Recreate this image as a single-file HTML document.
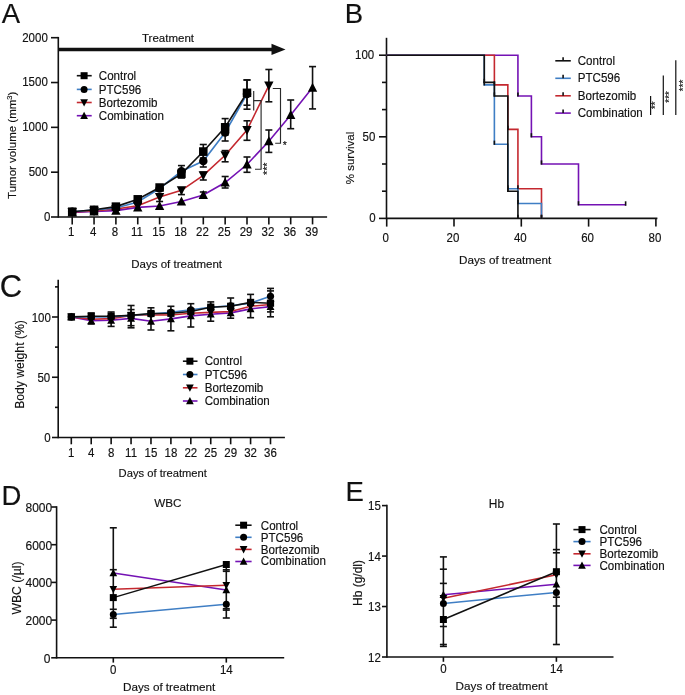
<!DOCTYPE html>
<html><head><meta charset="utf-8"><style>
html,body{margin:0;padding:0;background:#fff;}
svg{display:block;will-change:transform;}
text{font-family:"Liberation Sans", sans-serif;fill:#111;stroke:#111;stroke-width:0.15px;}
</style></head><body>
<svg width="685" height="695" viewBox="0 0 685 695">
<rect width="685" height="695" fill="#fff"/>
<text x="1.80" y="22.80" font-size="27.5" text-anchor="start" >A</text>
<line x1="58.30" y1="36.90" x2="58.30" y2="217.80" stroke="#111" stroke-width="1.6"/>
<line x1="58.30" y1="217.00" x2="327.10" y2="217.00" stroke="#111" stroke-width="1.6"/>
<line x1="51.00" y1="217.00" x2="58.30" y2="217.00" stroke="#111" stroke-width="1.6"/>
<text x="0" y="0" font-size="11.5" text-anchor="end" transform="translate(50.40,220.90) scale(1,1.1)" >0</text>
<line x1="51.00" y1="172.18" x2="58.30" y2="172.18" stroke="#111" stroke-width="1.6"/>
<text x="0" y="0" font-size="11.5" text-anchor="end" transform="translate(47.80,176.08) scale(1,1.1)" >500</text>
<line x1="51.00" y1="127.35" x2="58.30" y2="127.35" stroke="#111" stroke-width="1.6"/>
<text x="0" y="0" font-size="11.5" text-anchor="end" transform="translate(47.80,131.25) scale(1,1.1)" >1000</text>
<line x1="51.00" y1="82.53" x2="58.30" y2="82.53" stroke="#111" stroke-width="1.6"/>
<text x="0" y="0" font-size="11.5" text-anchor="end" transform="translate(47.80,86.43) scale(1,1.1)" >1500</text>
<line x1="51.00" y1="37.70" x2="58.30" y2="37.70" stroke="#111" stroke-width="1.6"/>
<text x="0" y="0" font-size="11.5" text-anchor="end" transform="translate(47.80,41.60) scale(1,1.1)" >2000</text>
<line x1="72.20" y1="217.00" x2="72.20" y2="224.40" stroke="#111" stroke-width="1.6"/>
<text x="0" y="0" font-size="11.5" text-anchor="middle" transform="translate(71.30,236.20) scale(1,1.1)" >1</text>
<line x1="94.05" y1="217.00" x2="94.05" y2="224.40" stroke="#111" stroke-width="1.6"/>
<text x="0" y="0" font-size="11.5" text-anchor="middle" transform="translate(93.15,236.20) scale(1,1.1)" >4</text>
<line x1="115.90" y1="217.00" x2="115.90" y2="224.40" stroke="#111" stroke-width="1.6"/>
<text x="0" y="0" font-size="11.5" text-anchor="middle" transform="translate(115.00,236.20) scale(1,1.1)" >8</text>
<line x1="137.75" y1="217.00" x2="137.75" y2="224.40" stroke="#111" stroke-width="1.6"/>
<text x="0" y="0" font-size="11.5" text-anchor="middle" transform="translate(136.85,236.20) scale(1,1.1)" >11</text>
<line x1="159.60" y1="217.00" x2="159.60" y2="224.40" stroke="#111" stroke-width="1.6"/>
<text x="0" y="0" font-size="11.5" text-anchor="middle" transform="translate(158.70,236.20) scale(1,1.1)" >15</text>
<line x1="181.45" y1="217.00" x2="181.45" y2="224.40" stroke="#111" stroke-width="1.6"/>
<text x="0" y="0" font-size="11.5" text-anchor="middle" transform="translate(180.55,236.20) scale(1,1.1)" >18</text>
<line x1="203.30" y1="217.00" x2="203.30" y2="224.40" stroke="#111" stroke-width="1.6"/>
<text x="0" y="0" font-size="11.5" text-anchor="middle" transform="translate(202.40,236.20) scale(1,1.1)" >22</text>
<line x1="225.15" y1="217.00" x2="225.15" y2="224.40" stroke="#111" stroke-width="1.6"/>
<text x="0" y="0" font-size="11.5" text-anchor="middle" transform="translate(224.25,236.20) scale(1,1.1)" >25</text>
<line x1="247.00" y1="217.00" x2="247.00" y2="224.40" stroke="#111" stroke-width="1.6"/>
<text x="0" y="0" font-size="11.5" text-anchor="middle" transform="translate(246.10,236.20) scale(1,1.1)" >29</text>
<line x1="268.85" y1="217.00" x2="268.85" y2="224.40" stroke="#111" stroke-width="1.6"/>
<text x="0" y="0" font-size="11.5" text-anchor="middle" transform="translate(267.95,236.20) scale(1,1.1)" >32</text>
<line x1="290.70" y1="217.00" x2="290.70" y2="224.40" stroke="#111" stroke-width="1.6"/>
<text x="0" y="0" font-size="11.5" text-anchor="middle" transform="translate(289.80,236.20) scale(1,1.1)" >36</text>
<line x1="312.55" y1="217.00" x2="312.55" y2="224.40" stroke="#111" stroke-width="1.6"/>
<text x="0" y="0" font-size="11.5" text-anchor="middle" transform="translate(311.65,236.20) scale(1,1.1)" >39</text>
<text x="131.30" y="268.20" font-size="11.5" text-anchor="start" >Days of treatment</text>
<text x="0" y="0" font-size="11.5" text-anchor="middle" dominant-baseline="central" transform="translate(11.80,145.30) rotate(-90)" >Tumor volume (mm<tspan font-size="7.5" dy="-3.3">3</tspan><tspan dy="3.3">)</tspan></text>
<line x1="58.30" y1="49.40" x2="273.00" y2="49.40" stroke="#111" stroke-width="3.5"/>
<polygon points="271.5,43.7 285.5,49.4 271.5,55.1" fill="#111"/>
<text x="142.00" y="42.40" font-size="11.5" text-anchor="start" >Treatment</text>
<polyline points="72.20,212.50 94.05,211.50 115.90,210.60 137.75,207.40 159.60,206.00 181.45,201.50 203.30,195.00 225.15,182.50 247.00,164.50 268.85,141.20 290.70,114.90 312.55,87.60" fill="none" stroke="#7412b4" stroke-width="1.6" stroke-linejoin="miter"/>
<polyline points="72.20,212.00 94.05,211.00 115.90,209.00 137.75,205.80 159.60,197.00 181.45,190.30 203.30,175.30 225.15,155.30 247.00,130.00 268.85,85.60" fill="none" stroke="#c4282f" stroke-width="1.6" stroke-linejoin="miter"/>
<polyline points="72.20,211.70 94.05,210.00 115.90,208.00 137.75,202.00 159.60,188.50 181.45,171.30 203.30,161.00 225.15,132.50 247.00,94.00" fill="none" stroke="#3f7ec4" stroke-width="1.6" stroke-linejoin="miter"/>
<polyline points="72.20,211.70 94.05,209.80 115.90,206.60 137.75,199.30 159.60,187.50 181.45,173.90 203.30,151.50 225.15,127.30 247.00,92.80" fill="none" stroke="#111" stroke-width="1.6" stroke-linejoin="miter"/>
<line x1="203.30" y1="192.00" x2="203.30" y2="198.00" stroke="#111" stroke-width="1.6"/>
<line x1="199.80" y1="192.00" x2="206.80" y2="192.00" stroke="#111" stroke-width="1.6"/>
<line x1="199.80" y1="198.00" x2="206.80" y2="198.00" stroke="#111" stroke-width="1.6"/>
<line x1="225.15" y1="176.50" x2="225.15" y2="188.00" stroke="#111" stroke-width="1.6"/>
<line x1="221.65" y1="176.50" x2="228.65" y2="176.50" stroke="#111" stroke-width="1.6"/>
<line x1="221.65" y1="188.00" x2="228.65" y2="188.00" stroke="#111" stroke-width="1.6"/>
<line x1="247.00" y1="157.00" x2="247.00" y2="172.30" stroke="#111" stroke-width="1.6"/>
<line x1="243.50" y1="157.00" x2="250.50" y2="157.00" stroke="#111" stroke-width="1.6"/>
<line x1="243.50" y1="172.30" x2="250.50" y2="172.30" stroke="#111" stroke-width="1.6"/>
<line x1="268.85" y1="130.00" x2="268.85" y2="152.40" stroke="#111" stroke-width="1.6"/>
<line x1="265.35" y1="130.00" x2="272.35" y2="130.00" stroke="#111" stroke-width="1.6"/>
<line x1="265.35" y1="152.40" x2="272.35" y2="152.40" stroke="#111" stroke-width="1.6"/>
<line x1="290.70" y1="100.00" x2="290.70" y2="128.70" stroke="#111" stroke-width="1.6"/>
<line x1="287.20" y1="100.00" x2="294.20" y2="100.00" stroke="#111" stroke-width="1.6"/>
<line x1="287.20" y1="128.70" x2="294.20" y2="128.70" stroke="#111" stroke-width="1.6"/>
<line x1="312.55" y1="66.60" x2="312.55" y2="108.90" stroke="#111" stroke-width="1.6"/>
<line x1="309.05" y1="66.60" x2="316.05" y2="66.60" stroke="#111" stroke-width="1.6"/>
<line x1="309.05" y1="108.90" x2="316.05" y2="108.90" stroke="#111" stroke-width="1.6"/>
<line x1="159.60" y1="194.60" x2="159.60" y2="201.50" stroke="#111" stroke-width="1.6"/>
<line x1="156.10" y1="194.60" x2="163.10" y2="194.60" stroke="#111" stroke-width="1.6"/>
<line x1="156.10" y1="201.50" x2="163.10" y2="201.50" stroke="#111" stroke-width="1.6"/>
<line x1="181.45" y1="187.70" x2="181.45" y2="194.60" stroke="#111" stroke-width="1.6"/>
<line x1="177.95" y1="187.70" x2="184.95" y2="187.70" stroke="#111" stroke-width="1.6"/>
<line x1="177.95" y1="194.60" x2="184.95" y2="194.60" stroke="#111" stroke-width="1.6"/>
<line x1="203.30" y1="172.20" x2="203.30" y2="180.00" stroke="#111" stroke-width="1.6"/>
<line x1="199.80" y1="172.20" x2="206.80" y2="172.20" stroke="#111" stroke-width="1.6"/>
<line x1="199.80" y1="180.00" x2="206.80" y2="180.00" stroke="#111" stroke-width="1.6"/>
<line x1="225.15" y1="150.60" x2="225.15" y2="161.80" stroke="#111" stroke-width="1.6"/>
<line x1="221.65" y1="150.60" x2="228.65" y2="150.60" stroke="#111" stroke-width="1.6"/>
<line x1="221.65" y1="161.80" x2="228.65" y2="161.80" stroke="#111" stroke-width="1.6"/>
<line x1="247.00" y1="120.80" x2="247.00" y2="140.30" stroke="#111" stroke-width="1.6"/>
<line x1="243.50" y1="120.80" x2="250.50" y2="120.80" stroke="#111" stroke-width="1.6"/>
<line x1="243.50" y1="140.30" x2="250.50" y2="140.30" stroke="#111" stroke-width="1.6"/>
<line x1="268.85" y1="69.50" x2="268.85" y2="101.80" stroke="#111" stroke-width="1.6"/>
<line x1="265.35" y1="69.50" x2="272.35" y2="69.50" stroke="#111" stroke-width="1.6"/>
<line x1="265.35" y1="101.80" x2="272.35" y2="101.80" stroke="#111" stroke-width="1.6"/>
<line x1="203.30" y1="155.00" x2="203.30" y2="167.00" stroke="#111" stroke-width="1.6"/>
<line x1="199.80" y1="155.00" x2="206.80" y2="155.00" stroke="#111" stroke-width="1.6"/>
<line x1="199.80" y1="167.00" x2="206.80" y2="167.00" stroke="#111" stroke-width="1.6"/>
<line x1="225.15" y1="124.00" x2="225.15" y2="141.00" stroke="#111" stroke-width="1.6"/>
<line x1="221.65" y1="124.00" x2="228.65" y2="124.00" stroke="#111" stroke-width="1.6"/>
<line x1="221.65" y1="141.00" x2="228.65" y2="141.00" stroke="#111" stroke-width="1.6"/>
<line x1="247.00" y1="80.00" x2="247.00" y2="109.20" stroke="#111" stroke-width="1.6"/>
<line x1="243.50" y1="80.00" x2="250.50" y2="80.00" stroke="#111" stroke-width="1.6"/>
<line x1="243.50" y1="109.20" x2="250.50" y2="109.20" stroke="#111" stroke-width="1.6"/>
<line x1="181.45" y1="165.60" x2="181.45" y2="178.00" stroke="#111" stroke-width="1.6"/>
<line x1="177.95" y1="165.60" x2="184.95" y2="165.60" stroke="#111" stroke-width="1.6"/>
<line x1="177.95" y1="178.00" x2="184.95" y2="178.00" stroke="#111" stroke-width="1.6"/>
<line x1="203.30" y1="144.50" x2="203.30" y2="158.00" stroke="#111" stroke-width="1.6"/>
<line x1="199.80" y1="144.50" x2="206.80" y2="144.50" stroke="#111" stroke-width="1.6"/>
<line x1="199.80" y1="158.00" x2="206.80" y2="158.00" stroke="#111" stroke-width="1.6"/>
<line x1="225.15" y1="118.60" x2="225.15" y2="135.00" stroke="#111" stroke-width="1.6"/>
<line x1="221.65" y1="118.60" x2="228.65" y2="118.60" stroke="#111" stroke-width="1.6"/>
<line x1="221.65" y1="135.00" x2="228.65" y2="135.00" stroke="#111" stroke-width="1.6"/>
<line x1="247.00" y1="79.90" x2="247.00" y2="105.20" stroke="#111" stroke-width="1.6"/>
<line x1="243.50" y1="79.90" x2="250.50" y2="79.90" stroke="#111" stroke-width="1.6"/>
<line x1="243.50" y1="105.20" x2="250.50" y2="105.20" stroke="#111" stroke-width="1.6"/>
<polygon points="67.53,216.54 76.88,216.54 72.20,207.61" fill="#000"/>
<polygon points="89.38,215.54 98.73,215.54 94.05,206.61" fill="#000"/>
<polygon points="111.23,214.64 120.58,214.64 115.90,205.71" fill="#000"/>
<polygon points="133.07,211.44 142.43,211.44 137.75,202.51" fill="#000"/>
<polygon points="154.93,210.04 164.28,210.04 159.60,201.11" fill="#000"/>
<polygon points="176.77,205.54 186.12,205.54 181.45,196.61" fill="#000"/>
<polygon points="198.62,199.04 207.98,199.04 203.30,190.11" fill="#000"/>
<polygon points="220.48,186.54 229.83,186.54 225.15,177.61" fill="#000"/>
<polygon points="242.32,168.54 251.68,168.54 247.00,159.61" fill="#000"/>
<polygon points="264.18,145.24 273.53,145.24 268.85,136.31" fill="#000"/>
<polygon points="286.02,118.94 295.38,118.94 290.70,110.01" fill="#000"/>
<polygon points="307.88,91.64 317.23,91.64 312.55,82.71" fill="#000"/>
<polygon points="67.53,207.96 76.88,207.96 72.20,216.89" fill="#000"/>
<polygon points="89.38,206.96 98.73,206.96 94.05,215.89" fill="#000"/>
<polygon points="111.23,204.96 120.58,204.96 115.90,213.89" fill="#000"/>
<polygon points="133.07,201.76 142.43,201.76 137.75,210.69" fill="#000"/>
<polygon points="154.93,192.96 164.28,192.96 159.60,201.89" fill="#000"/>
<polygon points="176.77,186.26 186.12,186.26 181.45,195.19" fill="#000"/>
<polygon points="198.62,171.26 207.98,171.26 203.30,180.19" fill="#000"/>
<polygon points="220.48,151.26 229.83,151.26 225.15,160.19" fill="#000"/>
<polygon points="242.32,125.96 251.68,125.96 247.00,134.89" fill="#000"/>
<polygon points="264.18,81.56 273.53,81.56 268.85,90.49" fill="#000"/>
<circle cx="72.20" cy="211.70" r="4.25" fill="#000"/>
<circle cx="94.05" cy="210.00" r="4.25" fill="#000"/>
<circle cx="115.90" cy="208.00" r="4.25" fill="#000"/>
<circle cx="137.75" cy="202.00" r="4.25" fill="#000"/>
<circle cx="159.60" cy="188.50" r="4.25" fill="#000"/>
<circle cx="181.45" cy="171.30" r="4.25" fill="#000"/>
<circle cx="203.30" cy="161.00" r="4.25" fill="#000"/>
<circle cx="225.15" cy="132.50" r="4.25" fill="#000"/>
<circle cx="247.00" cy="94.00" r="4.25" fill="#000"/>
<rect x="67.95" y="207.45" width="8.50" height="8.50" fill="#000"/>
<rect x="89.80" y="205.55" width="8.50" height="8.50" fill="#000"/>
<rect x="111.65" y="202.35" width="8.50" height="8.50" fill="#000"/>
<rect x="133.50" y="195.05" width="8.50" height="8.50" fill="#000"/>
<rect x="155.35" y="183.25" width="8.50" height="8.50" fill="#000"/>
<rect x="177.20" y="169.65" width="8.50" height="8.50" fill="#000"/>
<rect x="199.05" y="147.25" width="8.50" height="8.50" fill="#000"/>
<rect x="220.90" y="123.05" width="8.50" height="8.50" fill="#000"/>
<rect x="242.75" y="88.55" width="8.50" height="8.50" fill="#000"/>
<polyline points="253.70,91.10 253.70,110.40" fill="none" stroke="#2a2a2a" stroke-width="1.15" stroke-linejoin="miter"/>
<polyline points="253.70,100.60 261.10,100.60 261.10,169.20 255.00,169.20" fill="none" stroke="#2a2a2a" stroke-width="1.15" stroke-linejoin="miter"/>
<polyline points="272.80,88.50 280.50,88.50 280.50,143.20 275.20,143.20" fill="none" stroke="#2a2a2a" stroke-width="1.15" stroke-linejoin="miter"/>
<text x="0" y="0" font-size="10.5" text-anchor="middle" dominant-baseline="central" transform="translate(267.30,168.80) rotate(-90)" >***</text>
<text x="284.90" y="148.60" font-size="10.5" text-anchor="middle" >*</text>
<line x1="76.80" y1="75.70" x2="91.70" y2="75.70" stroke="#111" stroke-width="1.6"/>
<rect x="80.60" y="72.20" width="7.00" height="7.00" fill="#000"/>
<text x="0" y="0" font-size="11.6" text-anchor="start" transform="translate(98.80,79.90) scale(1,1.03)" >Control</text>
<line x1="76.80" y1="89.40" x2="91.70" y2="89.40" stroke="#3f7ec4" stroke-width="1.6"/>
<circle cx="84.10" cy="89.40" r="3.50" fill="#000"/>
<text x="0" y="0" font-size="11.6" text-anchor="start" transform="translate(98.80,93.60) scale(1,1.03)" >PTC596</text>
<line x1="76.80" y1="102.50" x2="91.70" y2="102.50" stroke="#c4282f" stroke-width="1.6"/>
<polygon points="80.25,99.17 87.95,99.17 84.10,106.53" fill="#000"/>
<text x="0" y="0" font-size="11.6" text-anchor="start" transform="translate(98.80,106.70) scale(1,1.03)" >Bortezomib</text>
<line x1="76.80" y1="115.70" x2="91.70" y2="115.70" stroke="#7412b4" stroke-width="1.6"/>
<polygon points="80.25,119.03 87.95,119.03 84.10,111.67" fill="#000"/>
<text x="0" y="0" font-size="11.6" text-anchor="start" transform="translate(98.80,119.90) scale(1,1.03)" >Combination</text>
<text x="344.80" y="23.10" font-size="27.5" text-anchor="start" >B</text>
<line x1="386.50" y1="37.80" x2="386.50" y2="219.20" stroke="#111" stroke-width="1.6"/>
<line x1="386.50" y1="218.40" x2="657.40" y2="218.40" stroke="#111" stroke-width="1.6"/>
<line x1="379.00" y1="218.40" x2="386.50" y2="218.40" stroke="#111" stroke-width="1.6"/>
<text x="0" y="0" font-size="11.5" text-anchor="end" transform="translate(375.70,222.30) scale(1,1.1)" >0</text>
<line x1="379.00" y1="136.80" x2="386.50" y2="136.80" stroke="#111" stroke-width="1.6"/>
<text x="0" y="0" font-size="11.5" text-anchor="end" transform="translate(375.30,140.70) scale(1,1.1)" >50</text>
<line x1="379.00" y1="55.20" x2="386.50" y2="55.20" stroke="#111" stroke-width="1.6"/>
<text x="0" y="0" font-size="11.5" text-anchor="end" transform="translate(374.20,59.10) scale(1,1.1)" >100</text>
<line x1="382.00" y1="191.20" x2="386.50" y2="191.20" stroke="#111" stroke-width="1.6"/>
<line x1="382.00" y1="164.00" x2="386.50" y2="164.00" stroke="#111" stroke-width="1.6"/>
<line x1="382.00" y1="109.60" x2="386.50" y2="109.60" stroke="#111" stroke-width="1.6"/>
<line x1="382.00" y1="82.40" x2="386.50" y2="82.40" stroke="#111" stroke-width="1.6"/>
<line x1="386.70" y1="218.40" x2="386.70" y2="226.60" stroke="#111" stroke-width="1.6"/>
<text x="0" y="0" font-size="11.5" text-anchor="middle" transform="translate(385.70,241.60) scale(1,1.1)" >0</text>
<line x1="454.00" y1="218.40" x2="454.00" y2="226.60" stroke="#111" stroke-width="1.6"/>
<text x="0" y="0" font-size="11.5" text-anchor="middle" transform="translate(453.00,241.60) scale(1,1.1)" >20</text>
<line x1="521.30" y1="218.40" x2="521.30" y2="226.60" stroke="#111" stroke-width="1.6"/>
<text x="0" y="0" font-size="11.5" text-anchor="middle" transform="translate(520.30,241.60) scale(1,1.1)" >40</text>
<line x1="588.60" y1="218.40" x2="588.60" y2="226.60" stroke="#111" stroke-width="1.6"/>
<text x="0" y="0" font-size="11.5" text-anchor="middle" transform="translate(587.60,241.60) scale(1,1.1)" >60</text>
<line x1="655.90" y1="218.40" x2="655.90" y2="226.60" stroke="#111" stroke-width="1.6"/>
<text x="0" y="0" font-size="11.5" text-anchor="middle" transform="translate(654.90,241.60) scale(1,1.1)" >80</text>
<text x="459.00" y="264.00" font-size="11.7" text-anchor="start" >Days of treatment</text>
<text x="0" y="0" font-size="11.5" text-anchor="middle" dominant-baseline="central" transform="translate(350.20,158.00) rotate(-90)" >% survival</text>
<polyline points="386.70,55.20 517.93,55.20 517.93,96.00 531.39,96.00 531.39,136.80 541.49,136.80 541.49,164.00 578.50,164.00 578.50,204.80 625.62,204.80 625.62,204.80" fill="none" stroke="#7412b4" stroke-width="1.6" stroke-linejoin="miter"/>
<polyline points="386.70,55.20 494.38,55.20 494.38,84.87 507.84,84.87 507.84,129.38 517.93,129.38 517.93,188.73 541.49,188.73 541.49,218.40" fill="none" stroke="#c4282f" stroke-width="1.6" stroke-linejoin="miter"/>
<polyline points="386.70,55.20 484.28,55.20 484.28,84.87 494.38,84.87 494.38,144.22 507.84,144.22 507.84,188.73 517.93,188.73 517.93,203.56 541.49,203.56 541.49,218.40" fill="none" stroke="#3f7ec4" stroke-width="1.6" stroke-linejoin="miter"/>
<polyline points="386.70,55.20 484.28,55.20 484.28,82.40 494.38,82.40 494.38,96.00 507.84,96.00 507.84,191.20 517.93,191.20 517.93,218.40" fill="none" stroke="#111" stroke-width="1.6" stroke-linejoin="miter"/>
<line x1="517.93" y1="92.40" x2="517.93" y2="96.60" stroke="#111" stroke-width="1.6"/>
<line x1="531.39" y1="133.20" x2="531.39" y2="137.40" stroke="#111" stroke-width="1.6"/>
<line x1="541.49" y1="160.40" x2="541.49" y2="164.60" stroke="#111" stroke-width="1.6"/>
<line x1="578.50" y1="201.20" x2="578.50" y2="205.40" stroke="#111" stroke-width="1.6"/>
<line x1="494.38" y1="81.27" x2="494.38" y2="85.47" stroke="#111" stroke-width="1.6"/>
<line x1="507.84" y1="125.78" x2="507.84" y2="129.98" stroke="#111" stroke-width="1.6"/>
<line x1="517.93" y1="185.13" x2="517.93" y2="189.33" stroke="#111" stroke-width="1.6"/>
<line x1="541.49" y1="214.80" x2="541.49" y2="219.00" stroke="#111" stroke-width="1.6"/>
<line x1="484.28" y1="81.27" x2="484.28" y2="85.47" stroke="#111" stroke-width="1.6"/>
<line x1="494.38" y1="140.62" x2="494.38" y2="144.82" stroke="#111" stroke-width="1.6"/>
<line x1="507.84" y1="185.13" x2="507.84" y2="189.33" stroke="#111" stroke-width="1.6"/>
<line x1="517.93" y1="199.96" x2="517.93" y2="204.16" stroke="#111" stroke-width="1.6"/>
<line x1="541.49" y1="214.80" x2="541.49" y2="219.00" stroke="#111" stroke-width="1.6"/>
<line x1="484.28" y1="78.80" x2="484.28" y2="83.00" stroke="#111" stroke-width="1.6"/>
<line x1="494.38" y1="92.40" x2="494.38" y2="96.60" stroke="#111" stroke-width="1.6"/>
<line x1="507.84" y1="187.60" x2="507.84" y2="191.80" stroke="#111" stroke-width="1.6"/>
<line x1="517.93" y1="214.80" x2="517.93" y2="219.00" stroke="#111" stroke-width="1.6"/>
<line x1="625.62" y1="201.30" x2="625.62" y2="205.80" stroke="#111" stroke-width="1.6"/>
<line x1="555.30" y1="60.80" x2="570.80" y2="60.80" stroke="#111" stroke-width="1.6"/>
<line x1="563.10" y1="57.20" x2="563.10" y2="60.80" stroke="#111" stroke-width="1.6"/>
<text x="0" y="0" font-size="11.6" text-anchor="start" transform="translate(577.70,64.70) scale(1,1.03)" >Control</text>
<line x1="555.30" y1="78.30" x2="570.80" y2="78.30" stroke="#3f7ec4" stroke-width="1.6"/>
<line x1="563.10" y1="74.70" x2="563.10" y2="78.30" stroke="#111" stroke-width="1.6"/>
<text x="0" y="0" font-size="11.6" text-anchor="start" transform="translate(577.70,82.20) scale(1,1.03)" >PTC596</text>
<line x1="555.30" y1="95.80" x2="570.80" y2="95.80" stroke="#c4282f" stroke-width="1.6"/>
<line x1="563.10" y1="92.20" x2="563.10" y2="95.80" stroke="#111" stroke-width="1.6"/>
<text x="0" y="0" font-size="11.6" text-anchor="start" transform="translate(577.70,99.70) scale(1,1.03)" >Bortezomib</text>
<line x1="555.30" y1="113.10" x2="570.80" y2="113.10" stroke="#7412b4" stroke-width="1.6"/>
<line x1="563.10" y1="109.50" x2="563.10" y2="113.10" stroke="#111" stroke-width="1.6"/>
<text x="0" y="0" font-size="11.6" text-anchor="start" transform="translate(577.70,117.00) scale(1,1.03)" >Combination</text>
<line x1="650.60" y1="96.10" x2="650.60" y2="115.00" stroke="#111" stroke-width="1.2"/>
<line x1="663.30" y1="75.60" x2="663.30" y2="115.00" stroke="#111" stroke-width="1.2"/>
<line x1="675.80" y1="60.20" x2="675.80" y2="115.00" stroke="#111" stroke-width="1.2"/>
<text x="0" y="0" font-size="10" text-anchor="middle" dominant-baseline="central" transform="translate(655.60,105.20) rotate(-90)" >**</text>
<text x="0" y="0" font-size="10" text-anchor="middle" dominant-baseline="central" transform="translate(669.90,96.90) rotate(-90)" >***</text>
<text x="0" y="0" font-size="10" text-anchor="middle" dominant-baseline="central" transform="translate(683.20,85.40) rotate(-90)" >***</text>
<text x="-0.30" y="297.00" font-size="31" text-anchor="start" >C</text>
<line x1="58.20" y1="279.80" x2="58.20" y2="438.30" stroke="#111" stroke-width="1.6"/>
<line x1="58.20" y1="437.50" x2="284.90" y2="437.50" stroke="#111" stroke-width="1.6"/>
<line x1="52.00" y1="437.50" x2="58.20" y2="437.50" stroke="#111" stroke-width="1.6"/>
<text x="0" y="0" font-size="11.5" text-anchor="end" transform="translate(50.70,442.10) scale(1,1.1)" >0</text>
<line x1="52.00" y1="377.25" x2="58.20" y2="377.25" stroke="#111" stroke-width="1.6"/>
<text x="0" y="0" font-size="11.5" text-anchor="end" transform="translate(50.20,381.85) scale(1,1.1)" >50</text>
<line x1="52.00" y1="317.00" x2="58.20" y2="317.00" stroke="#111" stroke-width="1.6"/>
<text x="0" y="0" font-size="11.5" text-anchor="end" transform="translate(50.80,321.60) scale(1,1.1)" >100</text>
<line x1="55.00" y1="407.38" x2="58.20" y2="407.38" stroke="#111" stroke-width="1.6"/>
<line x1="55.00" y1="347.12" x2="58.20" y2="347.12" stroke="#111" stroke-width="1.6"/>
<line x1="55.00" y1="286.88" x2="58.20" y2="286.88" stroke="#111" stroke-width="1.6"/>
<line x1="71.30" y1="437.50" x2="71.30" y2="444.30" stroke="#111" stroke-width="1.6"/>
<text x="0" y="0" font-size="11.5" text-anchor="middle" transform="translate(71.30,457.00) scale(1,1.1)" >1</text>
<line x1="91.22" y1="437.50" x2="91.22" y2="444.30" stroke="#111" stroke-width="1.6"/>
<text x="0" y="0" font-size="11.5" text-anchor="middle" transform="translate(91.22,457.00) scale(1,1.1)" >4</text>
<line x1="111.14" y1="437.50" x2="111.14" y2="444.30" stroke="#111" stroke-width="1.6"/>
<text x="0" y="0" font-size="11.5" text-anchor="middle" transform="translate(111.14,457.00) scale(1,1.1)" >8</text>
<line x1="131.06" y1="437.50" x2="131.06" y2="444.30" stroke="#111" stroke-width="1.6"/>
<text x="0" y="0" font-size="11.5" text-anchor="middle" transform="translate(131.06,457.00) scale(1,1.1)" >11</text>
<line x1="150.98" y1="437.50" x2="150.98" y2="444.30" stroke="#111" stroke-width="1.6"/>
<text x="0" y="0" font-size="11.5" text-anchor="middle" transform="translate(150.98,457.00) scale(1,1.1)" >15</text>
<line x1="170.90" y1="437.50" x2="170.90" y2="444.30" stroke="#111" stroke-width="1.6"/>
<text x="0" y="0" font-size="11.5" text-anchor="middle" transform="translate(170.90,457.00) scale(1,1.1)" >18</text>
<line x1="190.82" y1="437.50" x2="190.82" y2="444.30" stroke="#111" stroke-width="1.6"/>
<text x="0" y="0" font-size="11.5" text-anchor="middle" transform="translate(190.82,457.00) scale(1,1.1)" >22</text>
<line x1="210.74" y1="437.50" x2="210.74" y2="444.30" stroke="#111" stroke-width="1.6"/>
<text x="0" y="0" font-size="11.5" text-anchor="middle" transform="translate(210.74,457.00) scale(1,1.1)" >25</text>
<line x1="230.66" y1="437.50" x2="230.66" y2="444.30" stroke="#111" stroke-width="1.6"/>
<text x="0" y="0" font-size="11.5" text-anchor="middle" transform="translate(230.66,457.00) scale(1,1.1)" >29</text>
<line x1="250.58" y1="437.50" x2="250.58" y2="444.30" stroke="#111" stroke-width="1.6"/>
<text x="0" y="0" font-size="11.5" text-anchor="middle" transform="translate(250.58,457.00) scale(1,1.1)" >32</text>
<line x1="270.50" y1="437.50" x2="270.50" y2="444.30" stroke="#111" stroke-width="1.6"/>
<text x="0" y="0" font-size="11.5" text-anchor="middle" transform="translate(270.50,457.00) scale(1,1.1)" >36</text>
<text x="118.60" y="476.60" font-size="11.2" text-anchor="start" >Days of treatment</text>
<text x="0" y="0" font-size="12.2" text-anchor="middle" dominant-baseline="central" transform="translate(20.00,364.50) rotate(-90)" >Body weight (%)</text>
<polyline points="71.30,316.90 91.22,320.80 111.14,320.30 131.06,318.40 150.98,321.30 170.90,318.90 190.82,315.90 210.74,314.20 230.66,312.90 250.58,308.90 270.50,306.60" fill="none" stroke="#7412b4" stroke-width="1.6" stroke-linejoin="miter"/>
<polyline points="71.30,316.90 91.22,319.30 111.14,318.60 131.06,315.40 150.98,314.70 170.90,315.00 190.82,313.30 210.74,312.40 230.66,311.50 250.58,306.30 270.50,304.50" fill="none" stroke="#c4282f" stroke-width="1.6" stroke-linejoin="miter"/>
<polyline points="71.30,316.90 91.22,316.90 111.14,316.90 131.06,315.40 150.98,314.00 170.90,312.40 190.82,309.80 210.74,307.20 230.66,305.80 250.58,303.10 270.50,296.30" fill="none" stroke="#3f7ec4" stroke-width="1.6" stroke-linejoin="miter"/>
<polyline points="71.30,316.90 91.22,316.20 111.14,316.20 131.06,315.40 150.98,313.50 170.90,313.30 190.82,311.50 210.74,307.20 230.66,306.30 250.58,302.40 270.50,303.20" fill="none" stroke="#111" stroke-width="1.6" stroke-linejoin="miter"/>
<line x1="91.22" y1="313.00" x2="91.22" y2="324.00" stroke="#111" stroke-width="1.6"/>
<line x1="87.72" y1="313.00" x2="94.72" y2="313.00" stroke="#111" stroke-width="1.6"/>
<line x1="87.72" y1="324.00" x2="94.72" y2="324.00" stroke="#111" stroke-width="1.6"/>
<line x1="111.14" y1="312.00" x2="111.14" y2="326.40" stroke="#111" stroke-width="1.6"/>
<line x1="107.64" y1="312.00" x2="114.64" y2="312.00" stroke="#111" stroke-width="1.6"/>
<line x1="107.64" y1="326.40" x2="114.64" y2="326.40" stroke="#111" stroke-width="1.6"/>
<line x1="131.06" y1="305.50" x2="131.06" y2="327.80" stroke="#111" stroke-width="1.6"/>
<line x1="127.56" y1="305.50" x2="134.56" y2="305.50" stroke="#111" stroke-width="1.6"/>
<line x1="127.56" y1="327.80" x2="134.56" y2="327.80" stroke="#111" stroke-width="1.6"/>
<line x1="131.06" y1="309.60" x2="131.06" y2="325.70" stroke="#111" stroke-width="1.6"/>
<line x1="127.56" y1="309.60" x2="134.56" y2="309.60" stroke="#111" stroke-width="1.6"/>
<line x1="127.56" y1="325.70" x2="134.56" y2="325.70" stroke="#111" stroke-width="1.6"/>
<line x1="150.98" y1="307.80" x2="150.98" y2="330.00" stroke="#111" stroke-width="1.6"/>
<line x1="147.48" y1="307.80" x2="154.48" y2="307.80" stroke="#111" stroke-width="1.6"/>
<line x1="147.48" y1="330.00" x2="154.48" y2="330.00" stroke="#111" stroke-width="1.6"/>
<line x1="170.90" y1="306.30" x2="170.90" y2="330.80" stroke="#111" stroke-width="1.6"/>
<line x1="167.40" y1="306.30" x2="174.40" y2="306.30" stroke="#111" stroke-width="1.6"/>
<line x1="167.40" y1="330.80" x2="174.40" y2="330.80" stroke="#111" stroke-width="1.6"/>
<line x1="190.82" y1="303.70" x2="190.82" y2="327.00" stroke="#111" stroke-width="1.6"/>
<line x1="187.32" y1="303.70" x2="194.32" y2="303.70" stroke="#111" stroke-width="1.6"/>
<line x1="187.32" y1="327.00" x2="194.32" y2="327.00" stroke="#111" stroke-width="1.6"/>
<line x1="210.74" y1="301.90" x2="210.74" y2="321.20" stroke="#111" stroke-width="1.6"/>
<line x1="207.24" y1="301.90" x2="214.24" y2="301.90" stroke="#111" stroke-width="1.6"/>
<line x1="207.24" y1="321.20" x2="214.24" y2="321.20" stroke="#111" stroke-width="1.6"/>
<line x1="230.66" y1="298.00" x2="230.66" y2="318.20" stroke="#111" stroke-width="1.6"/>
<line x1="227.16" y1="298.00" x2="234.16" y2="298.00" stroke="#111" stroke-width="1.6"/>
<line x1="227.16" y1="318.20" x2="234.16" y2="318.20" stroke="#111" stroke-width="1.6"/>
<line x1="250.58" y1="294.40" x2="250.58" y2="317.70" stroke="#111" stroke-width="1.6"/>
<line x1="247.08" y1="294.40" x2="254.08" y2="294.40" stroke="#111" stroke-width="1.6"/>
<line x1="247.08" y1="317.70" x2="254.08" y2="317.70" stroke="#111" stroke-width="1.6"/>
<line x1="270.50" y1="288.40" x2="270.50" y2="316.80" stroke="#111" stroke-width="1.6"/>
<line x1="267.00" y1="288.40" x2="274.00" y2="288.40" stroke="#111" stroke-width="1.6"/>
<line x1="267.00" y1="316.80" x2="274.00" y2="316.80" stroke="#111" stroke-width="1.6"/>
<line x1="270.50" y1="290.90" x2="270.50" y2="311.90" stroke="#111" stroke-width="1.6"/>
<line x1="267.00" y1="290.90" x2="274.00" y2="290.90" stroke="#111" stroke-width="1.6"/>
<line x1="267.00" y1="311.90" x2="274.00" y2="311.90" stroke="#111" stroke-width="1.6"/>
<polygon points="67.34,320.32 75.26,320.32 71.30,312.76" fill="#000"/>
<polygon points="87.26,324.22 95.18,324.22 91.22,316.66" fill="#000"/>
<polygon points="107.18,323.72 115.10,323.72 111.14,316.16" fill="#000"/>
<polygon points="127.10,321.82 135.02,321.82 131.06,314.26" fill="#000"/>
<polygon points="147.02,324.72 154.94,324.72 150.98,317.16" fill="#000"/>
<polygon points="166.94,322.32 174.86,322.32 170.90,314.76" fill="#000"/>
<polygon points="186.86,319.32 194.78,319.32 190.82,311.76" fill="#000"/>
<polygon points="206.78,317.62 214.70,317.62 210.74,310.06" fill="#000"/>
<polygon points="226.70,316.32 234.62,316.32 230.66,308.76" fill="#000"/>
<polygon points="246.62,312.32 254.54,312.32 250.58,304.76" fill="#000"/>
<polygon points="266.54,310.02 274.46,310.02 270.50,302.46" fill="#000"/>
<polygon points="67.34,313.48 75.26,313.48 71.30,321.04" fill="#000"/>
<polygon points="87.26,315.88 95.18,315.88 91.22,323.44" fill="#000"/>
<polygon points="107.18,315.18 115.10,315.18 111.14,322.74" fill="#000"/>
<polygon points="127.10,311.98 135.02,311.98 131.06,319.54" fill="#000"/>
<polygon points="147.02,311.28 154.94,311.28 150.98,318.84" fill="#000"/>
<polygon points="166.94,311.58 174.86,311.58 170.90,319.14" fill="#000"/>
<polygon points="186.86,309.88 194.78,309.88 190.82,317.44" fill="#000"/>
<polygon points="206.78,308.98 214.70,308.98 210.74,316.54" fill="#000"/>
<polygon points="226.70,308.08 234.62,308.08 230.66,315.64" fill="#000"/>
<polygon points="246.62,302.88 254.54,302.88 250.58,310.44" fill="#000"/>
<polygon points="266.54,301.08 274.46,301.08 270.50,308.64" fill="#000"/>
<circle cx="71.30" cy="316.90" r="3.60" fill="#000"/>
<circle cx="91.22" cy="316.90" r="3.60" fill="#000"/>
<circle cx="111.14" cy="316.90" r="3.60" fill="#000"/>
<circle cx="131.06" cy="315.40" r="3.60" fill="#000"/>
<circle cx="150.98" cy="314.00" r="3.60" fill="#000"/>
<circle cx="170.90" cy="312.40" r="3.60" fill="#000"/>
<circle cx="190.82" cy="309.80" r="3.60" fill="#000"/>
<circle cx="210.74" cy="307.20" r="3.60" fill="#000"/>
<circle cx="230.66" cy="305.80" r="3.60" fill="#000"/>
<circle cx="250.58" cy="303.10" r="3.60" fill="#000"/>
<circle cx="270.50" cy="296.30" r="3.60" fill="#000"/>
<rect x="67.70" y="313.30" width="7.20" height="7.20" fill="#000"/>
<rect x="87.62" y="312.60" width="7.20" height="7.20" fill="#000"/>
<rect x="107.54" y="312.60" width="7.20" height="7.20" fill="#000"/>
<rect x="127.46" y="311.80" width="7.20" height="7.20" fill="#000"/>
<rect x="147.38" y="309.90" width="7.20" height="7.20" fill="#000"/>
<rect x="167.30" y="309.70" width="7.20" height="7.20" fill="#000"/>
<rect x="187.22" y="307.90" width="7.20" height="7.20" fill="#000"/>
<rect x="207.14" y="303.60" width="7.20" height="7.20" fill="#000"/>
<rect x="227.06" y="302.70" width="7.20" height="7.20" fill="#000"/>
<rect x="246.98" y="298.80" width="7.20" height="7.20" fill="#000"/>
<rect x="266.90" y="299.60" width="7.20" height="7.20" fill="#000"/>
<line x1="182.90" y1="361.20" x2="197.50" y2="361.20" stroke="#111" stroke-width="1.6"/>
<rect x="186.40" y="357.70" width="7.00" height="7.00" fill="#000"/>
<text x="0" y="0" font-size="11.6" text-anchor="start" transform="translate(204.70,365.40) scale(1,1.03)" >Control</text>
<line x1="182.90" y1="374.50" x2="197.50" y2="374.50" stroke="#3f7ec4" stroke-width="1.6"/>
<circle cx="189.90" cy="374.50" r="3.50" fill="#000"/>
<text x="0" y="0" font-size="11.6" text-anchor="start" transform="translate(204.70,378.70) scale(1,1.03)" >PTC596</text>
<line x1="182.90" y1="387.80" x2="197.50" y2="387.80" stroke="#c4282f" stroke-width="1.6"/>
<polygon points="186.05,384.48 193.75,384.48 189.90,391.82" fill="#000"/>
<text x="0" y="0" font-size="11.6" text-anchor="start" transform="translate(204.70,392.00) scale(1,1.03)" >Bortezomib</text>
<line x1="182.90" y1="401.00" x2="197.50" y2="401.00" stroke="#7412b4" stroke-width="1.6"/>
<polygon points="186.05,404.32 193.75,404.32 189.90,396.98" fill="#000"/>
<text x="0" y="0" font-size="11.6" text-anchor="start" transform="translate(204.70,405.20) scale(1,1.03)" >Combination</text>
<text x="1.50" y="504.70" font-size="27.5" text-anchor="start" >D</text>
<line x1="56.60" y1="506.20" x2="56.60" y2="658.60" stroke="#111" stroke-width="1.6"/>
<line x1="56.60" y1="657.80" x2="284.20" y2="657.80" stroke="#111" stroke-width="1.6"/>
<line x1="51.20" y1="657.80" x2="56.60" y2="657.80" stroke="#111" stroke-width="1.6"/>
<text x="0" y="0" font-size="12.0" text-anchor="end" transform="translate(50.50,662.70) scale(1,1.1)" >0</text>
<line x1="51.20" y1="620.10" x2="56.60" y2="620.10" stroke="#111" stroke-width="1.6"/>
<text x="0" y="0" font-size="12.0" text-anchor="end" transform="translate(52.20,625.00) scale(1,1.1)" >2000</text>
<line x1="51.20" y1="582.40" x2="56.60" y2="582.40" stroke="#111" stroke-width="1.6"/>
<text x="0" y="0" font-size="12.0" text-anchor="end" transform="translate(52.20,587.30) scale(1,1.1)" >4000</text>
<line x1="51.20" y1="544.70" x2="56.60" y2="544.70" stroke="#111" stroke-width="1.6"/>
<text x="0" y="0" font-size="12.0" text-anchor="end" transform="translate(52.20,549.60) scale(1,1.1)" >6000</text>
<line x1="51.20" y1="507.00" x2="56.60" y2="507.00" stroke="#111" stroke-width="1.6"/>
<text x="0" y="0" font-size="12.0" text-anchor="end" transform="translate(52.20,511.90) scale(1,1.1)" >8000</text>
<line x1="113.30" y1="657.80" x2="113.30" y2="662.60" stroke="#111" stroke-width="1.6"/>
<text x="0" y="0" font-size="11.5" text-anchor="middle" transform="translate(113.30,674.00) scale(1,1.1)" >0</text>
<line x1="226.30" y1="657.80" x2="226.30" y2="662.60" stroke="#111" stroke-width="1.6"/>
<text x="0" y="0" font-size="11.5" text-anchor="middle" transform="translate(226.30,674.00) scale(1,1.1)" >14</text>
<text x="123.00" y="690.80" font-size="11.7" text-anchor="start" >Days of treatment</text>
<text x="0" y="0" font-size="12.2" text-anchor="middle" dominant-baseline="central" transform="translate(16.80,588.00) rotate(-90)" >WBC (/µl)</text>
<text x="154.20" y="507.40" font-size="11.7" text-anchor="start" >WBC</text>
<line x1="113.30" y1="572.90" x2="226.30" y2="590.00" stroke="#7412b4" stroke-width="1.5"/>
<line x1="113.30" y1="589.20" x2="226.30" y2="585.30" stroke="#c4282f" stroke-width="1.5"/>
<line x1="113.30" y1="614.60" x2="226.30" y2="604.20" stroke="#3f7ec4" stroke-width="1.5"/>
<line x1="113.30" y1="597.60" x2="226.30" y2="564.50" stroke="#111" stroke-width="1.5"/>
<line x1="113.30" y1="527.80" x2="113.30" y2="627.20" stroke="#111" stroke-width="1.6"/>
<line x1="109.80" y1="527.80" x2="116.80" y2="527.80" stroke="#111" stroke-width="1.6"/>
<line x1="109.80" y1="569.70" x2="116.80" y2="569.70" stroke="#111" stroke-width="1.6"/>
<line x1="109.80" y1="609.30" x2="116.80" y2="609.30" stroke="#111" stroke-width="1.6"/>
<line x1="109.80" y1="618.30" x2="116.80" y2="618.30" stroke="#111" stroke-width="1.6"/>
<line x1="109.80" y1="627.20" x2="116.80" y2="627.20" stroke="#111" stroke-width="1.6"/>
<line x1="226.30" y1="564.00" x2="226.30" y2="618.00" stroke="#111" stroke-width="1.6"/>
<line x1="222.80" y1="569.80" x2="229.80" y2="569.80" stroke="#111" stroke-width="1.6"/>
<line x1="222.80" y1="571.30" x2="229.80" y2="571.30" stroke="#111" stroke-width="1.6"/>
<line x1="222.80" y1="608.70" x2="229.80" y2="608.70" stroke="#111" stroke-width="1.6"/>
<line x1="222.80" y1="610.10" x2="229.80" y2="610.10" stroke="#111" stroke-width="1.6"/>
<line x1="222.80" y1="618.00" x2="229.80" y2="618.00" stroke="#111" stroke-width="1.6"/>
<polygon points="109.45,576.23 117.15,576.23 113.30,568.88" fill="#000"/>
<polygon points="222.45,593.33 230.15,593.33 226.30,585.98" fill="#000"/>
<polygon points="109.45,585.88 117.15,585.88 113.30,593.23" fill="#000"/>
<polygon points="222.45,581.97 230.15,581.97 226.30,589.32" fill="#000"/>
<circle cx="113.30" cy="614.60" r="3.50" fill="#000"/>
<circle cx="226.30" cy="604.20" r="3.50" fill="#000"/>
<rect x="109.80" y="594.10" width="7.00" height="7.00" fill="#000"/>
<rect x="222.80" y="561.00" width="7.00" height="7.00" fill="#000"/>
<line x1="235.30" y1="525.20" x2="251.60" y2="525.20" stroke="#111" stroke-width="1.6"/>
<rect x="240.10" y="521.70" width="7.00" height="7.00" fill="#000"/>
<text x="0" y="0" font-size="11.6" text-anchor="start" transform="translate(260.80,530.40) scale(1,1.03)" >Control</text>
<line x1="235.30" y1="537.30" x2="251.60" y2="537.30" stroke="#3f7ec4" stroke-width="1.6"/>
<circle cx="243.60" cy="537.30" r="3.50" fill="#000"/>
<text x="0" y="0" font-size="11.6" text-anchor="start" transform="translate(260.80,542.30) scale(1,1.03)" >PTC596</text>
<line x1="235.30" y1="549.40" x2="251.60" y2="549.40" stroke="#c4282f" stroke-width="1.6"/>
<polygon points="239.75,546.07 247.45,546.07 243.60,553.42" fill="#000"/>
<text x="0" y="0" font-size="11.6" text-anchor="start" transform="translate(260.80,554.00) scale(1,1.03)" >Bortezomib</text>
<line x1="235.30" y1="561.50" x2="251.60" y2="561.50" stroke="#7412b4" stroke-width="1.6"/>
<polygon points="239.75,564.83 247.45,564.83 243.60,557.48" fill="#000"/>
<text x="0" y="0" font-size="11.6" text-anchor="start" transform="translate(260.80,565.40) scale(1,1.03)" >Combination</text>
<text x="345.50" y="500.50" font-size="27.5" text-anchor="start" >E</text>
<line x1="386.90" y1="504.80" x2="386.90" y2="657.80" stroke="#111" stroke-width="1.6"/>
<line x1="386.90" y1="657.00" x2="613.50" y2="657.00" stroke="#111" stroke-width="1.6"/>
<line x1="382.00" y1="657.00" x2="386.90" y2="657.00" stroke="#111" stroke-width="1.6"/>
<text x="0" y="0" font-size="11.5" text-anchor="end" transform="translate(380.90,661.50) scale(1,1.1)" >12</text>
<line x1="382.00" y1="606.53" x2="386.90" y2="606.53" stroke="#111" stroke-width="1.6"/>
<text x="0" y="0" font-size="11.5" text-anchor="end" transform="translate(380.90,611.03) scale(1,1.1)" >13</text>
<line x1="382.00" y1="556.07" x2="386.90" y2="556.07" stroke="#111" stroke-width="1.6"/>
<text x="0" y="0" font-size="11.5" text-anchor="end" transform="translate(380.90,560.57) scale(1,1.1)" >14</text>
<line x1="382.00" y1="505.60" x2="386.90" y2="505.60" stroke="#111" stroke-width="1.6"/>
<text x="0" y="0" font-size="11.5" text-anchor="end" transform="translate(380.90,510.10) scale(1,1.1)" >15</text>
<line x1="443.40" y1="657.00" x2="443.40" y2="661.80" stroke="#111" stroke-width="1.6"/>
<text x="0" y="0" font-size="11.5" text-anchor="middle" transform="translate(443.40,673.00) scale(1,1.1)" >0</text>
<line x1="556.40" y1="657.00" x2="556.40" y2="661.80" stroke="#111" stroke-width="1.6"/>
<text x="0" y="0" font-size="11.5" text-anchor="middle" transform="translate(556.40,673.00) scale(1,1.1)" >14</text>
<text x="455.60" y="690.40" font-size="11.7" text-anchor="start" >Days of treatment</text>
<text x="0" y="0" font-size="12.0" text-anchor="middle" dominant-baseline="central" transform="translate(357.60,583.00) rotate(-90)" >Hb (g/dl)</text>
<text x="488.80" y="507.60" font-size="11.9" text-anchor="start" >Hb</text>
<line x1="443.40" y1="594.80" x2="556.40" y2="584.30" stroke="#7412b4" stroke-width="1.5"/>
<line x1="443.40" y1="598.30" x2="556.40" y2="574.80" stroke="#c4282f" stroke-width="1.5"/>
<line x1="443.40" y1="603.40" x2="556.40" y2="592.40" stroke="#3f7ec4" stroke-width="1.5"/>
<line x1="443.40" y1="619.50" x2="556.40" y2="571.70" stroke="#111" stroke-width="1.5"/>
<line x1="443.40" y1="556.90" x2="443.40" y2="646.40" stroke="#111" stroke-width="1.6"/>
<line x1="439.90" y1="556.90" x2="446.90" y2="556.90" stroke="#111" stroke-width="1.6"/>
<line x1="439.90" y1="569.20" x2="446.90" y2="569.20" stroke="#111" stroke-width="1.6"/>
<line x1="439.90" y1="583.40" x2="446.90" y2="583.40" stroke="#111" stroke-width="1.6"/>
<line x1="439.90" y1="626.50" x2="446.90" y2="626.50" stroke="#111" stroke-width="1.6"/>
<line x1="439.90" y1="644.50" x2="446.90" y2="644.50" stroke="#111" stroke-width="1.6"/>
<line x1="439.90" y1="646.40" x2="446.90" y2="646.40" stroke="#111" stroke-width="1.6"/>
<line x1="556.40" y1="524.00" x2="556.40" y2="644.50" stroke="#111" stroke-width="1.6"/>
<line x1="552.90" y1="524.00" x2="559.90" y2="524.00" stroke="#111" stroke-width="1.6"/>
<line x1="552.90" y1="549.60" x2="559.90" y2="549.60" stroke="#111" stroke-width="1.6"/>
<line x1="552.90" y1="552.80" x2="559.90" y2="552.80" stroke="#111" stroke-width="1.6"/>
<line x1="552.90" y1="597.20" x2="559.90" y2="597.20" stroke="#111" stroke-width="1.6"/>
<line x1="552.90" y1="606.00" x2="559.90" y2="606.00" stroke="#111" stroke-width="1.6"/>
<line x1="552.90" y1="644.50" x2="559.90" y2="644.50" stroke="#111" stroke-width="1.6"/>
<polygon points="439.55,598.12 447.25,598.12 443.40,590.77" fill="#000"/>
<polygon points="552.55,587.62 560.25,587.62 556.40,580.27" fill="#000"/>
<polygon points="439.55,594.97 447.25,594.97 443.40,602.32" fill="#000"/>
<polygon points="552.55,571.47 560.25,571.47 556.40,578.82" fill="#000"/>
<circle cx="443.40" cy="603.40" r="3.50" fill="#000"/>
<circle cx="556.40" cy="592.40" r="3.50" fill="#000"/>
<rect x="439.90" y="616.00" width="7.00" height="7.00" fill="#000"/>
<rect x="552.90" y="568.20" width="7.00" height="7.00" fill="#000"/>
<line x1="573.40" y1="529.60" x2="590.60" y2="529.60" stroke="#111" stroke-width="1.6"/>
<rect x="578.50" y="526.10" width="7.00" height="7.00" fill="#000"/>
<text x="0" y="0" font-size="11.6" text-anchor="start" transform="translate(599.50,533.80) scale(1,1.03)" >Control</text>
<line x1="573.40" y1="541.60" x2="590.60" y2="541.60" stroke="#3f7ec4" stroke-width="1.6"/>
<circle cx="582.00" cy="541.60" r="3.50" fill="#000"/>
<text x="0" y="0" font-size="11.6" text-anchor="start" transform="translate(599.50,545.80) scale(1,1.03)" >PTC596</text>
<line x1="573.40" y1="553.80" x2="590.60" y2="553.80" stroke="#c4282f" stroke-width="1.6"/>
<polygon points="578.15,550.47 585.85,550.47 582.00,557.82" fill="#000"/>
<text x="0" y="0" font-size="11.6" text-anchor="start" transform="translate(599.50,558.00) scale(1,1.03)" >Bortezomib</text>
<line x1="573.40" y1="565.40" x2="590.60" y2="565.40" stroke="#7412b4" stroke-width="1.6"/>
<polygon points="578.15,568.73 585.85,568.73 582.00,561.38" fill="#000"/>
<text x="0" y="0" font-size="11.6" text-anchor="start" transform="translate(599.50,569.60) scale(1,1.03)" >Combination</text>
</svg>
</body></html>
